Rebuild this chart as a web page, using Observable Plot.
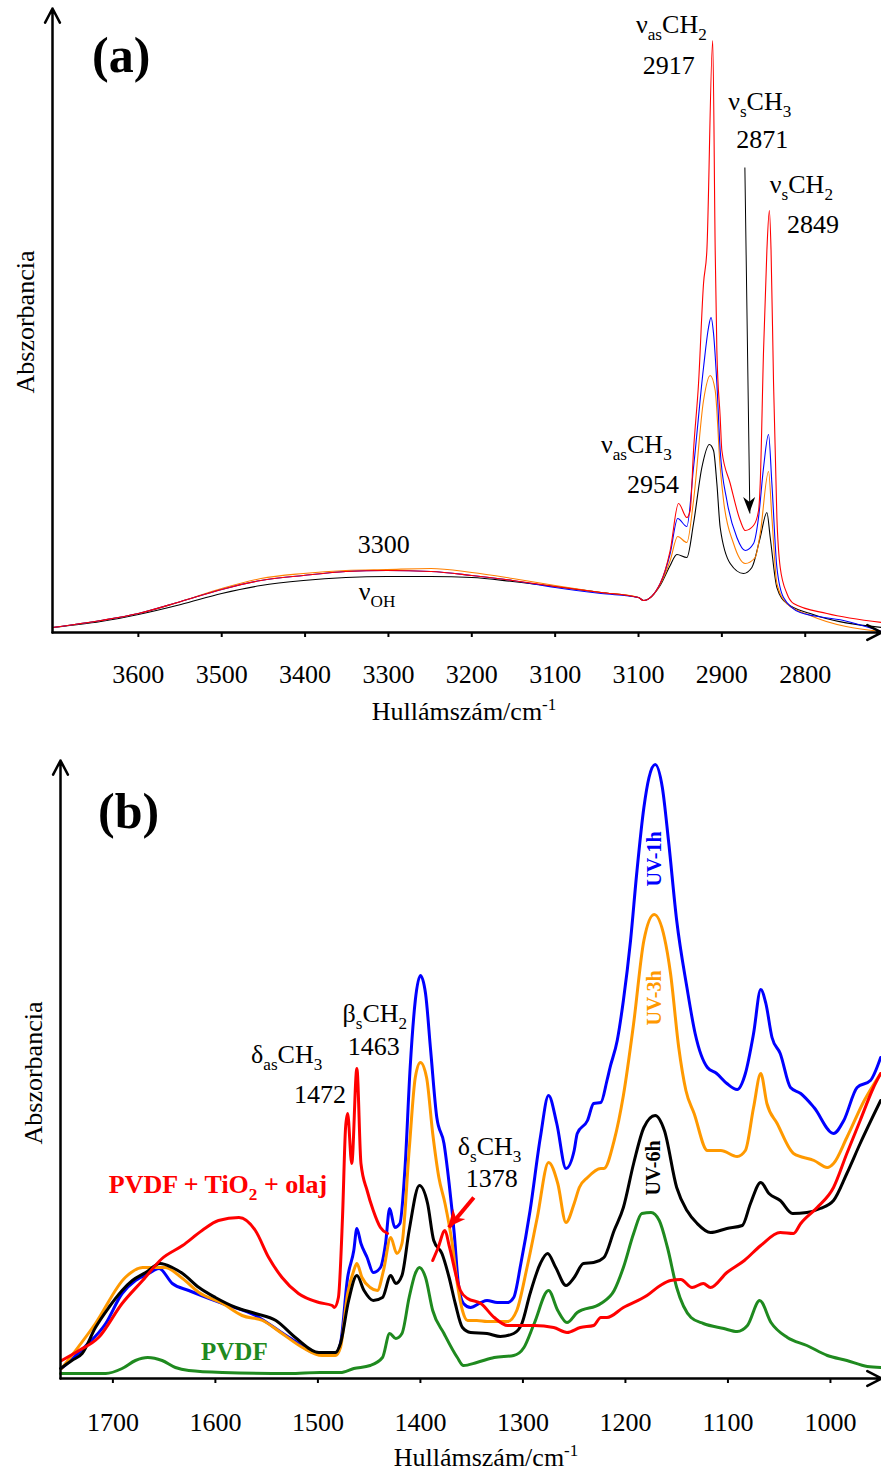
<!DOCTYPE html>
<html>
<head>
<meta charset="utf-8">
<script src="https://cdn.jsdelivr.net/npm/d3@7"></script>
<script src="https://cdn.jsdelivr.net/npm/@observablehq/plot@0.6"></script>
<style>
  body { margin: 0; background: #fff; }
  #chart svg { display: block; }
</style>
</head>
<body>
<div id="chart"></div>
<script>
const FONT = "'Liberation Serif', 'Times New Roman', serif";

// ---------- Panel (a): 3700–2700 cm-1 ----------
const aTicks = [3600, 3500, 3400, 3300, 3200, 3100, 3000, 2900, 2800];
const aTickLabels = ["3600", "3500", "3400", "3300", "3200", "3100", "3100", "2900", "2800"];
const aDomainX = [3703, 2708.5];
const aMaxY = 624;

const aRed = [[3703,5],[3645,12],[3600,19],[3549,31],[3500,43],[3453,52],[3402,57],[3351,61],[3302,62],[3249,61],[3200,57],[3151,52],[3100,46],[3045,40],[3000,35],[2994,32],[2974,49],[2962,82],[2952,129],[2942,115],[2938,122],[2934,182],[2928,249],[2922,349],[2918,382],[2911,592],[2908,382],[2906,282],[2902,215],[2900,182],[2890,149],[2878,112],[2872,102],[2862,107],[2856,122],[2854,149],[2850,282],[2846,382],[2843,422],[2841,382],[2838,249],[2834,115],[2830,65],[2822,39],[2814,29],[2774,19],[2708,10]];
const aBlue = [[3703,5],[3645,12],[3600,19],[3549,31],[3500,43],[3453,52],[3402,57],[3351,61],[3302,62],[3249,61],[3200,57],[3151,52],[3100,45],[3045,39],[3000,35],[2994,32],[2974,49],[2962,79],[2953,114],[2942,106],[2934,165],[2922,265],[2916,305],[2913,315],[2910,299],[2906,249],[2902,182],[2894,132],[2882,95],[2872,82],[2862,89],[2856,115],[2850,165],[2844,198],[2840,149],[2834,65],[2826,35],[2806,20],[2754,12],[2708,1]];
const aOrange = [[3703,5],[3645,12],[3600,19],[3549,31],[3500,44],[3453,54],[3402,59],[3351,62],[3302,63],[3249,64],[3200,60],[3151,54],[3100,47],[3045,40],[3000,35],[2994,32],[2974,48],[2962,72],[2953,96],[2942,90],[2934,132],[2922,232],[2914,257],[2908,242],[2902,165],[2898,132],[2886,89],[2872,69],[2860,75],[2854,99],[2844,161],[2840,115],[2834,49],[2822,29],[2794,17],[2708,1]];
const aBlack = [[3703,5],[3645,11],[3600,18],[3549,28],[3500,39],[3453,47],[3402,52],[3351,55],[3302,56],[3249,56],[3200,55],[3151,51],[3100,46],[3045,40],[3000,35],[2994,32],[2974,47],[2962,67],[2954,78],[2942,75],[2934,109],[2924,165],[2915,188],[2910,182],[2906,149],[2902,105],[2890,69],[2874,59],[2864,65],[2854,95],[2846,120],[2842,95],[2834,45],[2822,29],[2794,19],[2708,5]];

const aNotes = [
  {parts: [["ν"], ["as", "sub"], ["CH"], ["2", "sub"]], wn: 2960, a: 599},
  {parts: [["2917"]], wn: 2963, a: 558},
  {parts: [["ν"], ["s", "sub"], ["CH"], ["3", "sub"]], wn: 2854, a: 522},
  {parts: [["2871"]], wn: 2851, a: 484},
  {parts: [["ν"], ["s", "sub"], ["CH"], ["2", "sub"]], wn: 2804, a: 439},
  {parts: [["2849"]], wn: 2790, a: 399},
  {parts: [["ν"], ["as", "sub"], ["CH"], ["3", "sub"]], wn: 3002, a: 179},
  {parts: [["2954"]], wn: 2982, a: 139},
  {parts: [["3300"]], wn: 3305, a: 79},
  {parts: [["ν"], ["OH", "sub"]], wn: 3313, a: 32},
  {parts: [["(a)"]], wn: 3655, a: 560, anchor: "start", size: 50, weight: "bold"}
];
const aArrows = [{x1: 2872.4, y1: 465, x2: 2866.4, y2: 119}];

// ---------- Panel (b): 1750–950 cm-1 ----------
const bTicks = [1700, 1600, 1500, 1400, 1300, 1200, 1100, 1000];
const bTickLabels = ["1700", "1600", "1500", "1400", "1300", "1200", "1100", "1000"];
const bDomainX = [1751.1, 950.2];
const bMaxY = 618;

const bGreen = [[1751,5],[1707,5],[1691,10],[1678,18],[1666,21],[1652,18],[1639,11],[1626,8],[1593,6],[1528,5],[1498,6],[1478,6],[1465,10],[1449,13],[1437,21],[1430,45],[1424,40],[1418,45],[1411,81],[1405,105],[1401,111],[1395,101],[1388,68],[1377,45],[1364,21],[1358,13],[1345,16],[1328,21],[1309,23],[1299,31],[1289,55],[1275,88],[1266,68],[1257,56],[1247,66],[1224,75],[1211,88],[1202,111],[1192,145],[1184,165],[1175,166],[1167,158],[1159,131],[1150,91],[1136,61],[1124,55],[1104,50],[1091,47],[1081,53],[1069,78],[1058,56],[1042,41],[1023,33],[1003,23],[984,18],[964,12],[951,11]];
const bBlack = [[1751,10],[1740,18],[1730,25],[1717,51],[1704,71],[1691,88],[1681,98],[1668,106],[1654,115],[1642,111],[1632,105],[1616,91],[1600,81],[1580,71],[1561,65],[1541,58],[1522,41],[1499,26],[1483,26],[1478,35],[1470,78],[1462,103],[1455,88],[1446,78],[1437,81],[1429,103],[1424,95],[1418,103],[1411,148],[1401,193],[1393,175],[1387,138],[1379,125],[1372,101],[1366,75],[1359,51],[1351,46],[1335,45],[1322,42],[1309,45],[1301,55],[1293,85],[1283,115],[1276,125],[1268,111],[1258,93],[1250,101],[1241,115],[1231,116],[1221,121],[1211,148],[1202,171],[1192,215],[1182,251],[1171,263],[1162,248],[1150,191],[1140,168],[1130,155],[1117,146],[1101,150],[1086,153],[1078,175],[1068,196],[1060,185],[1049,178],[1037,165],[1023,166],[1010,170],[997,178],[984,205],[971,235],[951,278]];
const bOrange = [[1750,10],[1717,55],[1688,101],[1671,111],[1649,111],[1632,100],[1616,86],[1593,75],[1574,63],[1554,58],[1535,45],[1515,31],[1496,23],[1483,23],[1478,31],[1471,85],[1465,108],[1462,115],[1457,101],[1449,91],[1442,88],[1436,108],[1429,141],[1423,125],[1418,135],[1411,228],[1405,301],[1400,316],[1394,301],[1388,245],[1382,201],[1376,175],[1369,135],[1364,95],[1359,68],[1354,58],[1345,58],[1335,57],[1315,57],[1306,68],[1296,111],[1286,161],[1275,216],[1266,195],[1258,156],[1250,175],[1245,191],[1237,201],[1224,210],[1221,210],[1211,238],[1202,283],[1192,355],[1182,438],[1172,464],[1162,441],[1156,405],[1148,331],[1141,288],[1133,265],[1120,228],[1107,228],[1091,222],[1083,228],[1075,271],[1068,305],[1062,275],[1052,255],[1036,225],[1016,218],[1003,211],[997,215],[984,241],[967,278],[951,305]];
const bBlue = [[1750,10],[1728,31],[1707,55],[1691,85],[1678,98],[1665,105],[1655,110],[1642,95],[1626,88],[1593,75],[1561,63],[1528,41],[1499,25],[1483,25],[1478,35],[1471,101],[1465,128],[1462,150],[1458,135],[1452,121],[1446,106],[1439,111],[1434,135],[1430,170],[1425,151],[1420,155],[1415,211],[1410,311],[1405,378],[1400,403],[1395,385],[1390,328],[1384,261],[1377,235],[1372,195],[1367,145],[1363,95],[1358,75],[1351,71],[1341,76],[1335,78],[1325,76],[1315,76],[1309,81],[1302,115],[1293,168],[1283,241],[1275,283],[1267,255],[1258,210],[1250,228],[1247,245],[1237,258],[1231,275],[1224,276],[1218,298],[1215,311],[1208,338],[1202,378],[1195,438],[1189,505],[1182,571],[1177,601],[1171,614],[1164,591],[1158,538],[1150,458],[1140,391],[1132,345],[1120,311],[1111,305],[1101,295],[1091,289],[1083,305],[1075,345],[1068,389],[1063,375],[1057,341],[1049,325],[1039,291],[1029,285],[1016,271],[997,245],[987,258],[974,291],[961,298],[951,321]];
const bRed = [[1750,18],[1733,28],[1714,41],[1691,75],[1671,98],[1652,120],[1632,133],[1613,148],[1597,158],[1577,161],[1561,148],[1548,121],[1535,101],[1519,85],[1499,76],[1486,73],[1484,71],[1480,81],[1476,161],[1473,251],[1471,265],[1467,215],[1462,310],[1458,215],[1452,188],[1446,168],[1439,151],[1432,145],[1410,NaN],[1388,118],[1383,130],[1376,148],[1372,133],[1361,88],[1354,80],[1341,75],[1328,61],[1315,53],[1289,53],[1270,51],[1257,46],[1244,51],[1231,53],[1224,61],[1218,61],[1202,71],[1179,83],[1166,93],[1156,98],[1146,99],[1135,91],[1124,95],[1117,91],[1101,106],[1084,118],[1068,133],[1049,146],[1036,145],[1029,155],[1013,171],[997,191],[984,225],[971,258],[958,291],[951,305]];

const bNotes = [
  {parts: [["δ"], ["as", "sub"], ["CH"], ["3", "sub"]], wn: 1530, a: 315},
  {parts: [["1472"]], wn: 1497.5, a: 275},
  {parts: [["β"], ["s", "sub"], ["CH"], ["2", "sub"]], wn: 1444, a: 356},
  {parts: [["1463"]], wn: 1445, a: 323},
  {parts: [["δ"], ["s", "sub"], ["CH"], ["3", "sub"]], wn: 1332, a: 223},
  {parts: [["1378"]], wn: 1330, a: 191},
  {parts: [["PVDF + TiO"], ["2", "sub"], [" + olaj"]], wn: 1597, a: 185, fill: "#ff0000", weight: "bold"},
  {parts: [["PVDF"]], wn: 1581, a: 18, fill: "#1f8a1f", weight: "bold", size: 25},
  {parts: [["UV-1h"]], wn: 1171.6, a: 519, fill: "#0000ff", weight: "bold", size: 20, rotate: -90},
  {parts: [["UV-3h"]], wn: 1171.6, a: 380, fill: "#ff9900", weight: "bold", size: 20, rotate: -90},
  {parts: [["UV-6h"]], wn: 1172.6, a: 210, fill: "#000000", weight: "bold", size: 20, rotate: -90},
  {parts: [["(b)"]], wn: 1714, a: 550, anchor: "start", size: 50, weight: "bold"}
];
const bArrows = [{x1: 1347.9, y1: 181, x2: 1372.3, y2: 151}];

// ---------- helpers ----------
function addRichText(svg, x, y, note) {
  const size = note.size || 26;
  const rot = note.rotate || 0;
  let tx = x, ty = y;
  if (rot) tx = x + 0.34 * size;
  const t = d3.select(svg).append("text")
    .attr("transform", `translate(${tx},${ty})` + (rot ? ` rotate(${rot})` : ""))
    .attr("text-anchor", note.anchor || "middle")
    .attr("font-family", FONT)
    .attr("font-size", size)
    .attr("font-weight", note.weight || "normal")
    .attr("fill", note.fill || "black");
  let shift = 0;
  for (const [s, kind] of note.parts) {
    const target = kind === "sub" ? size * 0.27 : kind === "sup" ? -size * 0.4 : 0;
    const ts = t.append("tspan").text(s).attr("dy", target - shift);
    if (kind) ts.attr("font-size", size * 0.66);
    shift = target;
  }
}

// filled arrowhead drawn as a rotated triangle path at the arrow tip (pixel space via the plot's scales)
function addFilledHead(svg, sx, sy, ar, color, len, halfWidth) {
  const x1 = sx.apply(ar.x1), y1 = sy.apply(ar.y1), x2 = sx.apply(ar.x2), y2 = sy.apply(ar.y2);
  const ang = Math.atan2(y2 - y1, x2 - x1) * 180 / Math.PI;
  d3.select(svg).append("path")
    .attr("transform", `translate(${x2},${y2}) rotate(${ang})`)
    .attr("d", `M0,0L${-len},${-halfWidth}L${-len * 0.7},0L${-len},${halfWidth}Z`)
    .attr("fill", color);
}

function makePanel(cfg) {
  const tickMap = new Map(cfg.ticks.map((v, i) => [v, cfg.tickLabels[i]]));
  const axes = [
    {x1: cfg.domainX[0], y1: 0, x2: cfg.domainX[0], y2: cfg.maxY},
    {x1: cfg.domainX[0], y1: 0, x2: cfg.domainX[1], y2: 0}
  ];
  const marks = [];
  for (const s of cfg.series) {
    marks.push(Plot.line(s.data, {
      x: d => d[0], y: d => d[1], stroke: s.color,
      strokeWidth: cfg.lineWidth, curve: "monotone-x"
    }));
  }
  marks.push(Plot.axisX({
    ticks: cfg.ticks, tickFormat: d => tickMap.get(d), tickSize: 5,
    tickPadding: cfg.tickPadding, fontSize: 26, strokeWidth: 2, label: null
  }));
  marks.push(Plot.arrow(axes, {
    x1: "x1", y1: "y1", x2: "x2", y2: "y2", stroke: "black",
    strokeWidth: 2.5, headLength: 9.6, headAngle: 55
  }));
  for (const ar of cfg.arrows) {
    marks.push(Plot.link([ar], {
      x1: "x1", y1: "y1", x2: "x2", y2: "y2", stroke: cfg.arrowColor,
      strokeWidth: cfg.arrowWidth
    }));
  }
  const p = Plot.plot({
    width: 881, height: cfg.height,
    marginLeft: cfg.marginLeft, marginRight: 0,
    marginTop: cfg.marginTop, marginBottom: cfg.marginBottom,
    x: {domain: cfg.domainX},
    y: {domain: [0, cfg.maxY], axis: null},
    style: {fontFamily: FONT, fontSize: "26px", color: "black", background: "white", overflow: "visible"},
    marks
  });
  const sx = p.scale("x"), sy = p.scale("y");
  for (const ar of cfg.arrows) addFilledHead(p, sx, sy, ar, cfg.arrowColor, cfg.headLen, cfg.headHalf);
  for (const n of cfg.notes) addRichText(p, sx.apply(n.wn), sy.apply(n.a), n);
  const svg = d3.select(p);
  svg.append("text")
    .attr("transform", `translate(${cfg.yLabelX},${cfg.yLabelY}) rotate(-90)`)
    .attr("text-anchor", "middle").attr("font-family", FONT).attr("font-size", 26)
    .attr("fill", "black").text("Abszorbancia");
  const xl = svg.append("text")
    .attr("x", cfg.xLabelX).attr("y", cfg.xLabelY)
    .attr("text-anchor", "middle").attr("font-family", FONT).attr("font-size", 26)
    .attr("fill", "black");
  xl.append("tspan").text("Hullámszám/cm");
  xl.append("tspan").text("-1").attr("font-size", 17).attr("dy", -10);
  return p;
}

const chart = document.getElementById("chart");
chart.appendChild(makePanel({
  height: 735, marginLeft: 52, marginTop: 8, marginBottom: 103,
  domainX: aDomainX, maxY: aMaxY, ticks: aTicks, tickLabels: aTickLabels, tickPadding: 27,
  lineWidth: 1.1,
  series: [
    {color: "#000000", data: aBlack},
    {color: "#ff8000", data: aOrange},
    {color: "#0000ff", data: aBlue},
    {color: "#ff0000", data: aRed}
  ],
  notes: aNotes, arrows: aArrows, arrowColor: "black", arrowWidth: 1, headLen: 16, headHalf: 6,
  yLabelX: 34, yLabelY: 322, xLabelX: 464, xLabelY: 720
}));
chart.appendChild(makePanel({
  height: 737, marginLeft: 60, marginTop: 25, marginBottom: 94,
  domainX: bDomainX, maxY: bMaxY, ticks: bTicks, tickLabels: bTickLabels, tickPadding: 29,
  lineWidth: 3,
  series: [
    {color: "#1f8a1f", data: bGreen},
    {color: "#0000ff", data: bBlue},
    {color: "#ff9900", data: bOrange},
    {color: "#000000", data: bBlack},
    {color: "#ff0000", data: bRed}
  ],
  notes: bNotes, arrows: bArrows, arrowColor: "#ff0000", arrowWidth: 4, headLen: 17, headHalf: 8,
  yLabelX: 42, yLabelY: 338, xLabelX: 486, xLabelY: 731
}));
</script>
</body>
</html>
